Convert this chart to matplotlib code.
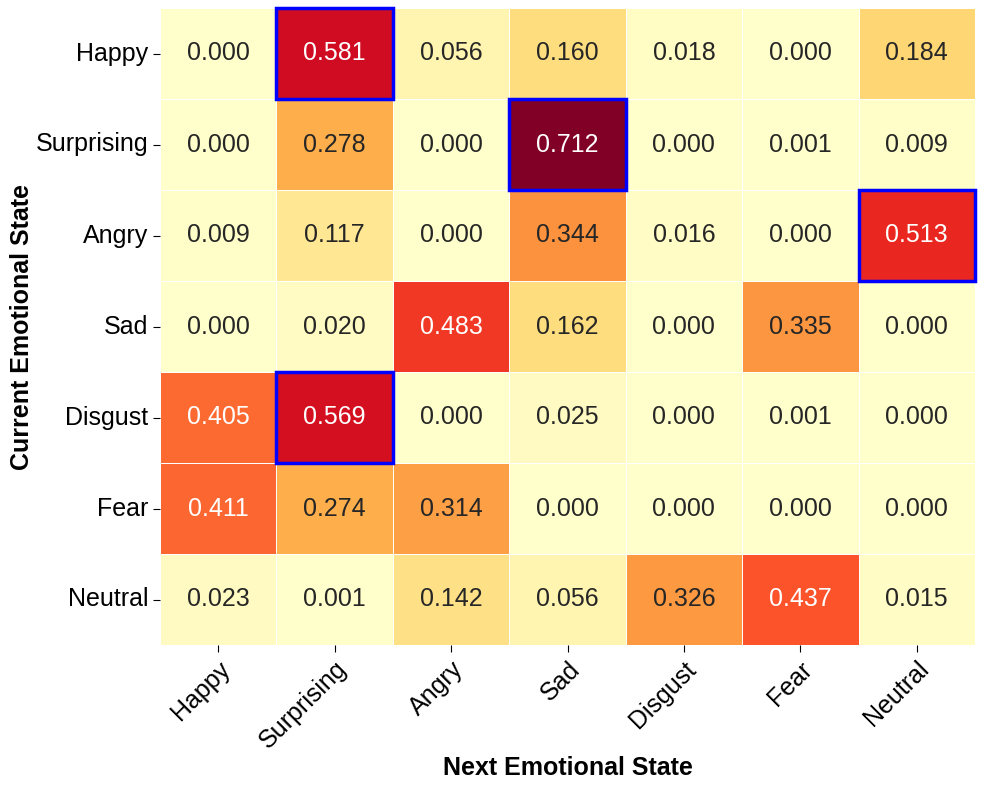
import numpy as np
import matplotlib
matplotlib.use("Agg")
import matplotlib.pyplot as plt
import seaborn as sns
from matplotlib.patches import Rectangle

plt.rcParams['font.family'] = ['Liberation Sans', 'DejaVu Sans']

states = ["Happy", "Surprising", "Angry", "Sad", "Disgust", "Fear", "Neutral"]
values = np.array([
    [0.000, 0.581, 0.056, 0.160, 0.018, 0.000, 0.184],
    [0.000, 0.278, 0.000, 0.712, 0.000, 0.001, 0.009],
    [0.009, 0.117, 0.000, 0.344, 0.016, 0.000, 0.513],
    [0.000, 0.020, 0.483, 0.162, 0.000, 0.335, 0.000],
    [0.405, 0.569, 0.000, 0.025, 0.000, 0.001, 0.000],
    [0.411, 0.274, 0.314, 0.000, 0.000, 0.000, 0.000],
    [0.023, 0.001, 0.142, 0.056, 0.326, 0.437, 0.015],
])
highlight_threshold = 0.5

fig = plt.figure(figsize=(9.89, 7.9), dpi=100)
ax = fig.add_axes([160/989, 1-645/790, (975-160)/989, (645-8)/790])
sns.heatmap(values, cmap="YlOrRd", vmin=0, vmax=values.max(), annot=True, fmt=".3f",
            annot_kws={"size": 18}, linewidths=0.5, linecolor="white", cbar=False,
            xticklabels=states, yticklabels=states, ax=ax)

for i in range(values.shape[0]):
    for j in range(values.shape[1]):
        if values[i, j] > highlight_threshold:
            ax.add_patch(Rectangle((j, i), 1, 1, fill=False, edgecolor="blue", lw=2.5, clip_on=False, zorder=5))

ax.set_xlabel("Next Emotional State", fontsize=18, fontweight="bold", labelpad=2)
ax.set_ylabel("Current Emotional State", fontsize=18, fontweight="bold", labelpad=1)
plt.setp(ax.get_xticklabels(), rotation=45, ha="right", rotation_mode="anchor", fontsize=18)
plt.setp(ax.get_yticklabels(), rotation=0, fontsize=18)
ax.tick_params(length=5)

fig.savefig("out.png", dpi=100)
